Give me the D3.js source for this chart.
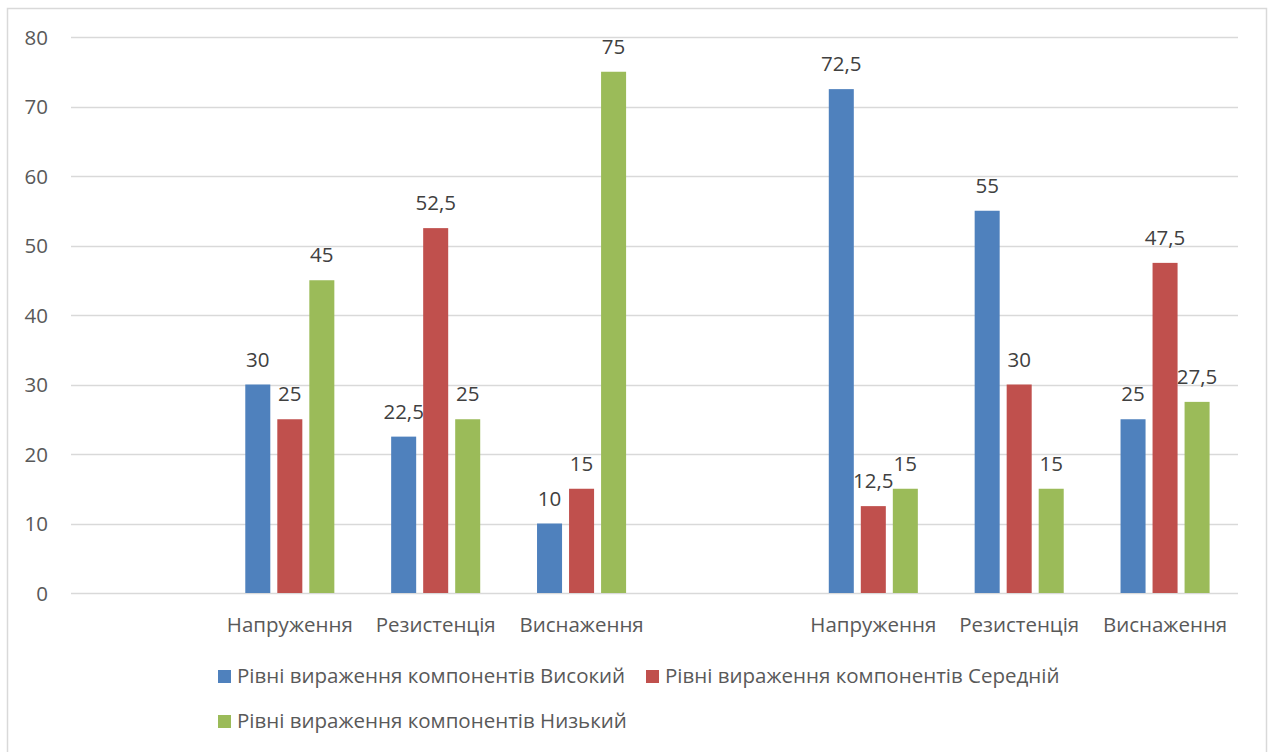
<!DOCTYPE html>
<html>
<head>
<meta charset="utf-8">
<script src="https://cdn.jsdelivr.net/npm/d3@7"></script>
<style>
  html, body { margin: 0; padding: 0; background: #fff; }
  svg text { font-family: "Open Sans", sans-serif; font-size: 20.5px; }
</style>
</head>
<body>
<svg id="chart" width="1272" height="752"></svg>
<script>
// Categories along the x axis (first slot is empty, and one empty slot separates the two blocks)
const categories = ["", "Напруження", "Резистенція", "Виснаження", " ", "Напруження ", "Резистенція ", "Виснаження "];
const seriesNames = [
  "Рівні вираження компонентів Високий",
  "Рівні вираження компонентів Середній",
  "Рівні вираження компонентів Низький"
];
const high   = [null, 30, 22.5, 10, null, 72.5, 55, 25];
const medium = [null, 25, 52.5, 15, null, 12.5, 30, 47.5];
const low    = [null, 45, 25, 75, null, 15, 15, 27.5];
const yTicks = [0, 10, 20, 30, 40, 50, 60, 70, 80];
const colors = ["#4F81BD", "#C0504D", "#9BBB59"];

const series = [high, medium, low];
const svg = d3.select("#chart");

// chart border
svg.append("rect").attr("x", 7.5).attr("y", 8.5).attr("width", 1259).attr("height", 760)
  .attr("fill", "none").attr("stroke", "#d9d9d9").attr("stroke-width", 1.5);

const plot = { left: 71, right: 1238, top: 37, bottom: 593 };

const x = d3.scaleBand().domain(d3.range(categories.length)).range([plot.left, plot.right]).padding(0);
const y = d3.scaleLinear().domain([0, 80]).range([plot.bottom, plot.top]);

// horizontal gridlines
svg.append("g").selectAll("line").data(yTicks).join("line")
  .attr("x1", plot.left).attr("x2", plot.right)
  .attr("y1", d => Math.round(y(d)) + 0.5).attr("y2", d => Math.round(y(d)) + 0.5)
  .attr("stroke", "#d9d9d9").attr("stroke-width", 1.5);

// y axis tick labels
svg.append("g").selectAll("text").data(yTicks).join("text")
  .attr("x", 48).attr("y", d => y(d) + 7.5)
  .attr("text-anchor", "end").attr("fill", "#595959")
  .text(d => d);

// bars
const step = x.bandwidth();
const barW = step * 0.1715;
const gap = step * 0.048;
const groupW = barW * 3 + gap * 2;
const inner = d3.scaleBand().domain([0, 1, 2]).range([0, groupW]).paddingInner(gap / (barW + gap)).paddingOuter(0);

series.forEach((vals, si) => {
  const g = svg.append("g");
  const data = vals.map((v, i) => ({ v, i })).filter(d => d.v !== null);
  g.selectAll("rect").data(data).join("rect")
    .attr("x", d => x(d.i) + (step - groupW) / 2 + inner(si))
    .attr("width", inner.bandwidth())
    .attr("y", d => y(d.v))
    .attr("height", d => y(0) - y(d.v))
    .attr("fill", colors[si]);
  g.selectAll("text").data(data).join("text")
    .attr("x", d => x(d.i) + (step - groupW) / 2 + inner(si) + inner.bandwidth() / 2)
    .attr("y", d => y(d.v) - 18)
    .attr("text-anchor", "middle").attr("fill", "#404040")
    .text(d => String(d.v).replace(".", ","));
});

// category labels
svg.append("g").selectAll("text").data(categories).join("text")
  .attr("x", (d, i) => x(i) + step / 2).attr("y", 632)
  .attr("text-anchor", "middle").attr("fill", "#595959")
  .text(d => d.trim());

// legend
const legendItems = [
  { name: seriesNames[0], color: colors[0], x: 218, y: 683 },
  { name: seriesNames[1], color: colors[1], x: 646, y: 683 },
  { name: seriesNames[2], color: colors[2], x: 218, y: 728 }
];
const lg = svg.append("g").selectAll("g").data(legendItems).join("g")
  .attr("transform", d => `translate(${d.x},${d.y})`);
lg.append("rect").attr("x", 0).attr("y", -13).attr("width", 13).attr("height", 13).attr("fill", d => d.color);
lg.append("text").attr("x", 19).attr("y", 0)
  .attr("fill", "#595959").text(d => d.name);
</script>
</body>
</html>
